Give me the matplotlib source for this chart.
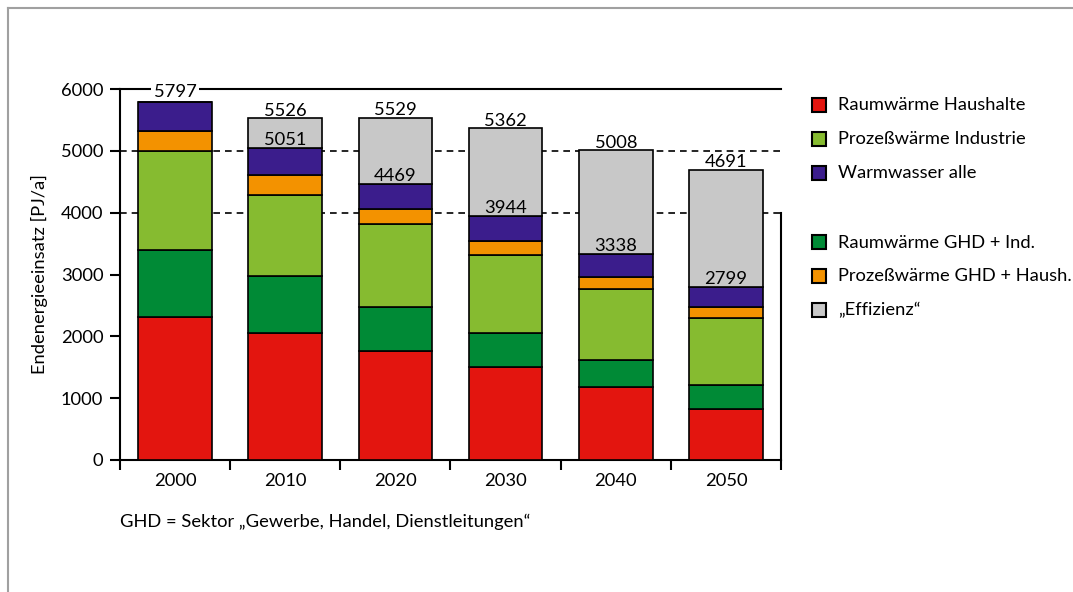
import numpy as np
import matplotlib
matplotlib.use('Agg')
import matplotlib.pyplot as plt
from matplotlib.patches import Rectangle
from matplotlib.lines import Line2D

plt.rcParams['font.family'] = ['Lato', 'DejaVu Sans']

years = ['2000', '2010', '2020', '2030', '2040', '2050']

# stacked from bottom to top, PJ/a
raumwaerme_hh = [2310, 2060, 1760, 1510, 1180, 830]
raumwaerme_ghd = [1080, 910, 720, 550, 430, 390]
prozess_ind = [1610, 1320, 1330, 1260, 1160, 1070]
prozess_ghd = [320, 320, 250, 220, 190, 180]
warmwasser = [477, 441, 409, 404, 378, 329]
effizienz = [0, 475, 1060, 1418, 1670, 1892]

# labelled sums: total demand and demand after efficiency gains
totals = [5797, 5526, 5529, 5362, 5008, 4691]
nach_effizienz = [5797, 5051, 4469, 3944, 3338, 2799]

series = [
    ('Raumwärme Haushalte', raumwaerme_hh, '#e3150f'),
    ('Raumwärme GHD + Ind.', raumwaerme_ghd, '#008a36'),
    ('Prozeßwärme Industrie', prozess_ind, '#86bb30'),
    ('Prozeßwärme GHD + Haush.', prozess_ghd, '#f39200'),
    ('Warmwasser alle', warmwasser, '#3b1d8c'),
    ('„Effizienz“', effizienz, '#c8c8c8'),
]
colors = {name: c for name, _, c in series}

FS = 13.2

fig = plt.figure(figsize=(10.73, 5.92), dpi=100)
ax = fig.add_axes([120 / 1073, 1 - 460 / 592, 661 / 1073, 371 / 592])

x = np.arange(len(years))
bottom = np.zeros(len(years))
for name, vals, c in series:
    vals = np.array(vals, dtype=float)
    ax.bar(x, vals, 0.67, bottom=bottom, color=c, edgecolor='black',
           linewidth=1.2, zorder=3)
    bottom += vals

for lvl in (4000, 5000):
    ax.axhline(lvl, color='black', linestyle=(0, (4, 3)), linewidth=1.2, zorder=1)

ax.set_xlim(-0.5, 5.5)
ax.set_ylim(0, 6000)
ax.set_yticks(range(0, 6001, 1000))
ax.set_xticks(x)
ax.set_xticklabels(years)
ax.set_xticks(np.arange(-0.5, 5.6, 1), minor=True)
ax.tick_params(axis='x', which='major', length=0, pad=9, labelsize=FS)
ax.tick_params(axis='x', which='minor', length=7, width=1.5, direction='out')
ax.tick_params(axis='y', length=7, width=1.5, pad=5, labelsize=FS)
for s in ax.spines.values():
    s.set_linewidth(1.5)
ax.spines['right'].set_bounds(0, 4000)
ax.set_ylabel('Endenergieeinsatz [PJ/a]', fontsize=FS, labelpad=9)

for i in range(len(years)):
    if totals[i] > 5600:
        # label crosses the top frame line: white box hides the line,
        # bar outline is drawn on top of the box
        ax.annotate(str(totals[i]), (x[i], totals[i]), xytext=(0, 3.5),
                    textcoords='offset points', ha='center', va='baseline',
                    fontsize=FS, zorder=2.7, annotation_clip=False,
                    bbox=dict(facecolor='white', edgecolor='none', pad=2))
    else:
        ax.annotate(str(totals[i]), (x[i], totals[i]), xytext=(0, 2),
                    textcoords='offset points', ha='center', va='baseline',
                    fontsize=FS, zorder=6)
    if nach_effizienz[i] != totals[i]:
        ax.annotate(str(nach_effizienz[i]), (x[i], nach_effizienz[i]),
                    xytext=(0, 2), textcoords='offset points', ha='center',
                    va='baseline', fontsize=FS, zorder=6)

# legend in two groups
legend_rows = [
    ('Raumwärme Haushalte', 105),
    ('Prozeßwärme Industrie', 139),
    ('Warmwasser alle', 173),
    ('Raumwärme GHD + Ind.', 242.5),
    ('Prozeßwärme GHD + Haush.', 276),
    ('„Effizienz“', 310),
]
W, H = 1073, 592
for name, yc in legend_rows:
    fig.add_artist(Rectangle((812 / W, 1 - (yc + 7) / H), 14 / W, 14 / H,
                             transform=fig.transFigure, facecolor=colors[name],
                             edgecolor='black', linewidth=1.5))
    fig.text(838 / W, 1 - yc / H, name, fontsize=FS, va='center', ha='left')

fig.text(120 / W, 1 - 522 / H, 'GHD = Sektor „Gewerbe, Handel, Dienstleitungen“',
         fontsize=FS, va='center', ha='left')

# frame around the figure
fig.add_artist(Line2D([7.5 / W, 1], [1 - 7.5 / H, 1 - 7.5 / H],
                      transform=fig.transFigure, color='#a0a0a0', linewidth=1.5))
fig.add_artist(Line2D([7.5 / W, 7.5 / W], [0, 1 - 7.5 / H],
                      transform=fig.transFigure, color='#a0a0a0', linewidth=1.5))

fig.savefig('out.png', dpi=100)
